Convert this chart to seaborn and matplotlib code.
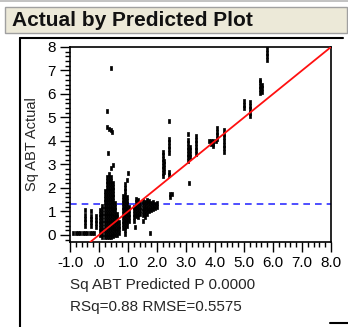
import matplotlib
matplotlib.use("Agg")
import matplotlib.pyplot as plt
import seaborn as sns
import pandas as pd
from matplotlib.ticker import MultipleLocator, FixedLocator, FixedFormatter
from matplotlib.patches import Rectangle
from matplotlib.lines import Line2D
from matplotlib.path import Path

# ---------------- data ----------------
title = "Actual by Predicted Plot"
y_label = "Sq ABT Actual"
x_label = "Sq ABT Predicted P 0.0000"
fit_text = "RSq=0.88 RMSE=0.5575"
x_ticks = [-1, 0, 1, 2, 3, 4, 5, 6, 7, 8]
x_tick_labels = ["-1.0", ".0", "1.0", "2.0", "3.0", "4.0", "5.0", "6.0", "7.0", "8.0"]
y_ticks = [0, 1, 2, 3, 4, 5, 6, 7, 8]
y_tick_labels = ["0", "1", "2", "3", "4", "5", "6", "7", "8"]
mean_actual = 1.31
fit_x = [-1.0, 8.0]
fit_y = [-1.0, 8.0]

# points given as (predicted, [actual values]) columns
bottom_row_x = [-0.88, -0.80, -0.72, -0.64, -0.56, -0.48, -0.40, -0.32, -0.24, -0.16]
bottom_row_y = [0.1, 0.1, 0.1, 0.1, 0.1, 0.1, 0.1, 0.1, 0.1, 0.1]

left_columns = [
    (-0.48, [0.4, 0.55, 0.7, 0.85, 1.05]),
    (-0.28, [0.4, 0.55, 0.7, 0.82, 1.0]),
    (-0.12, [0.35, 0.5, 0.65, 0.8]),
]
main_columns = [
    (0.05, [0.0, 0.15, 0.3, 0.45, 0.6, 0.75, 0.9, 1.05]),
    (0.12, [-0.1, 0.05, 0.2, 0.35, 0.5, 0.65, 0.8, 0.95, 1.1, 1.25]),
    (0.19, [-0.1, 0.05, 0.2, 0.35, 0.5, 0.65, 0.8, 0.95, 1.1, 1.25, 1.4, 1.55, 1.7, 1.85]),
    (0.26, [-0.1, 0.05, 0.2, 0.35, 0.5, 0.65, 0.8, 0.95, 1.1, 1.25, 1.4, 1.55, 1.7, 1.85, 2.0, 2.15, 2.3, 2.45]),
    (0.33, [-0.1, 0.05, 0.2, 0.35, 0.5, 0.65, 0.8, 0.95, 1.1, 1.25, 1.4, 1.55, 1.7, 1.85, 2.0, 2.15, 2.3, 2.45, 2.6]),
    (0.40, [-0.1, 0.05, 0.2, 0.35, 0.5, 0.65, 0.8, 0.95, 1.1, 1.25, 1.4, 1.55, 1.7, 1.85, 2.0, 2.15, 2.3, 2.45]),
    (0.47, [-0.05, 0.1, 0.25, 0.4, 0.55, 0.7, 0.85, 1.0, 1.15, 1.3, 1.45, 1.6, 1.75, 1.9, 2.05, 2.2]),
    (0.54, [0.0, 0.15, 0.3, 0.45, 0.6, 0.75, 0.9, 1.05, 1.2, 1.35]),
    (0.61, [0.0, 0.15, 0.3, 0.45, 0.6, 0.75, 0.9]),
    (0.68, [0.1, 0.25, 0.4, 0.55]),
]
second_columns = [
    (0.82, [0.3, 0.45, 0.6, 0.75, 0.9, 1.05, 1.2, 1.35, 1.5, 1.65]),
    (0.89, [0.2, 0.35, 0.5, 0.65, 0.8, 0.95, 1.1, 1.25, 1.4, 1.55, 1.7, 1.85, 2.0, 2.15]),
    (0.96, [0.4, 0.55, 0.7, 0.85, 1.0, 1.15, 1.3, 1.45, 1.6]),
    (1.03, [0.6, 0.75, 0.9, 1.05, 1.2]),
]
third_columns = [
    (1.22, [0.6, 0.75, 0.9, 1.05, 1.2]),
    (1.29, [0.8, 0.95, 1.1, 1.25, 1.4, 1.55]),
    (1.36, [0.75, 0.9, 1.05, 1.2, 1.35, 1.5]),
    (1.43, [0.9, 1.05, 1.2, 1.35]),
    (1.50, [0.85, 1.0, 1.15, 1.3, 1.45]),
    (1.57, [0.95, 1.1, 1.25, 1.4]),
    (1.64, [0.9, 1.05, 1.2, 1.35, 1.5]),
    (1.71, [1.0, 1.15, 1.3, 1.45]),
    (1.78, [1.05, 1.2, 1.35]),
    (1.85, [1.1, 1.25, 1.4]),
    (1.92, [1.15, 1.3]),
    (2.00, [1.2, 1.35]),
]
upper_columns = [
    (2.19, [2.5, 2.65, 2.8, 2.95, 3.1, 3.25, 3.4, 3.55]),
    (2.24, [2.7, 2.85, 3.0, 3.15]),
    (2.43, [2.55, 2.7, 3.5, 3.65, 3.8, 3.95, 4.1, 4.83]),
    (3.08, [3.15, 3.3, 3.45, 3.6, 3.75, 3.9, 4.05, 4.3]),
    (3.15, [3.3, 3.45, 3.6, 3.75]),
    (3.35, [3.45, 3.6, 3.75, 3.9, 4.05, 4.2]),
    (4.06, [4.1, 4.25, 4.4, 4.55]),
    (4.32, [3.55, 3.7, 3.85, 4.0, 4.15, 4.3, 4.45]),
    (4.99, [5.4, 5.55, 5.7]),
    (5.22, [5.05, 5.2, 5.35, 5.5, 5.65]),
    (5.55, [6.05, 6.2, 6.35, 6.5, 6.6]),
    (5.61, [6.1, 6.25, 6.4]),
    (5.78, [7.45, 7.6, 7.75, 7.9]),
]
scattered_x = [0.42, 0.27, 0.28, 0.33, 0.40, 0.45, 0.31, 0.48, 0.40, 1.01, 0.95, 0.90,
               1.25, 1.50, 1.76, 1.60, 2.46, 2.52, 2.46, 3.10,
               3.78, 3.86, 3.94, 4.02, 3.86, 3.94, 3.94]
scattered_y = [7.1, 5.26, 4.6, 4.5, 4.45, 4.4, 3.5, 2.97, 2.85, 2.62, 2.35, 0.05,
               0.35, 0.6, 0.07, 0.75, 1.75, 1.75, 1.62, 2.2,
               4.0, 4.0, 4.0, 4.0, 3.88, 3.88, 3.78]

# ---------------- assemble ----------------
px, py = list(bottom_row_x), list(bottom_row_y)
for group in (left_columns, main_columns, second_columns, third_columns, upper_columns):
    for xv, ys in group:
        for yv in ys:
            px.append(xv)
            py.append(yv)
px += scattered_x
py += scattered_y
df = pd.DataFrame({"Predicted": px, "Actual": py})

# ---------------- figure ----------------
sns.set_style("ticks")
plt.rcParams["font.family"] = ["Liberation Sans", "DejaVu Sans"]

W, H = 348, 327
fig = plt.figure(figsize=(W / 100, H / 100), dpi=100)
fig.patch.set_facecolor("white")

def fx(x):
    return x / W

def fy(y):
    return 1 - y / H

# window chrome: top rule, title bar, outer frame
fig.add_artist(Line2D([0, 1], [fy(1), fy(1)], color="#b8b8b8", lw=1.2))
fig.add_artist(Rectangle((fx(5), fy(33)), fx(342), 26 / H, facecolor="#ece9d8",
                         edgecolor="#a0a0a0", lw=1.0))
fig.text(fx(12), fy(20), title, fontsize=15, fontweight="bold", va="center", ha="left",
         color="#111111")
fig.add_artist(Line2D([fx(20), fx(20)], [fy(38), fy(327)], color="black", lw=1.5))
fig.add_artist(Line2D([fx(20), fx(343)], [fy(38), fy(38)], color="black", lw=1.5))
fig.add_artist(Line2D([fx(330), fx(348)], [fy(323), fy(323)], color="black", lw=1.5))

ax = fig.add_axes([fx(70), fy(242), fx(331) - fx(70), (242 - 47) / H])
ax.set_facecolor("white")

rect_marker = Path([(-0.3, -0.5), (0.3, -0.5), (0.3, 0.5), (-0.3, 0.5), (-0.3, -0.5)],
                   [Path.MOVETO, Path.LINETO, Path.LINETO, Path.LINETO, Path.CLOSEPOLY])
sns.scatterplot(data=df, x="Predicted", y="Actual", ax=ax, marker=rect_marker, s=12,
                color="black", edgecolor="black", linewidth=0.5, legend=False, zorder=3)
sns.lineplot(x=fit_x, y=fit_y, ax=ax, color="#ff1010", lw=1.3, zorder=4)
ax.axhline(mean_actual, color="#3030ff", lw=1.2, ls=(0, (4, 3)), zorder=2)

ax.set_xlim(-1, 8)
ax.set_ylim(-0.3, 8)
ax.xaxis.set_major_locator(FixedLocator(x_ticks))
ax.xaxis.set_major_formatter(FixedFormatter(x_tick_labels))
ax.yaxis.set_major_locator(FixedLocator(y_ticks))
ax.yaxis.set_major_formatter(FixedFormatter(y_tick_labels))
ax.xaxis.set_minor_locator(MultipleLocator(0.2))
ax.yaxis.set_minor_locator(MultipleLocator(0.2))
ax.tick_params(which="major", direction="out", length=7, width=1, colors="black",
               labelsize=11, pad=3)
ax.tick_params(which="minor", direction="out", length=3.5, width=1, colors="black")
for s in ax.spines.values():
    s.set_visible(True)
    s.set_color("black")
    s.set_linewidth(1.2)
ax.set_xlabel("")
ax.set_ylabel(y_label, fontsize=10.5, labelpad=6)

fig.text(fx(70), fy(285), x_label, fontsize=11, ha="left", va="center")
fig.text(fx(70), fy(307), fit_text, fontsize=11, ha="left", va="center")

fig.savefig("out.png", dpi=100)
